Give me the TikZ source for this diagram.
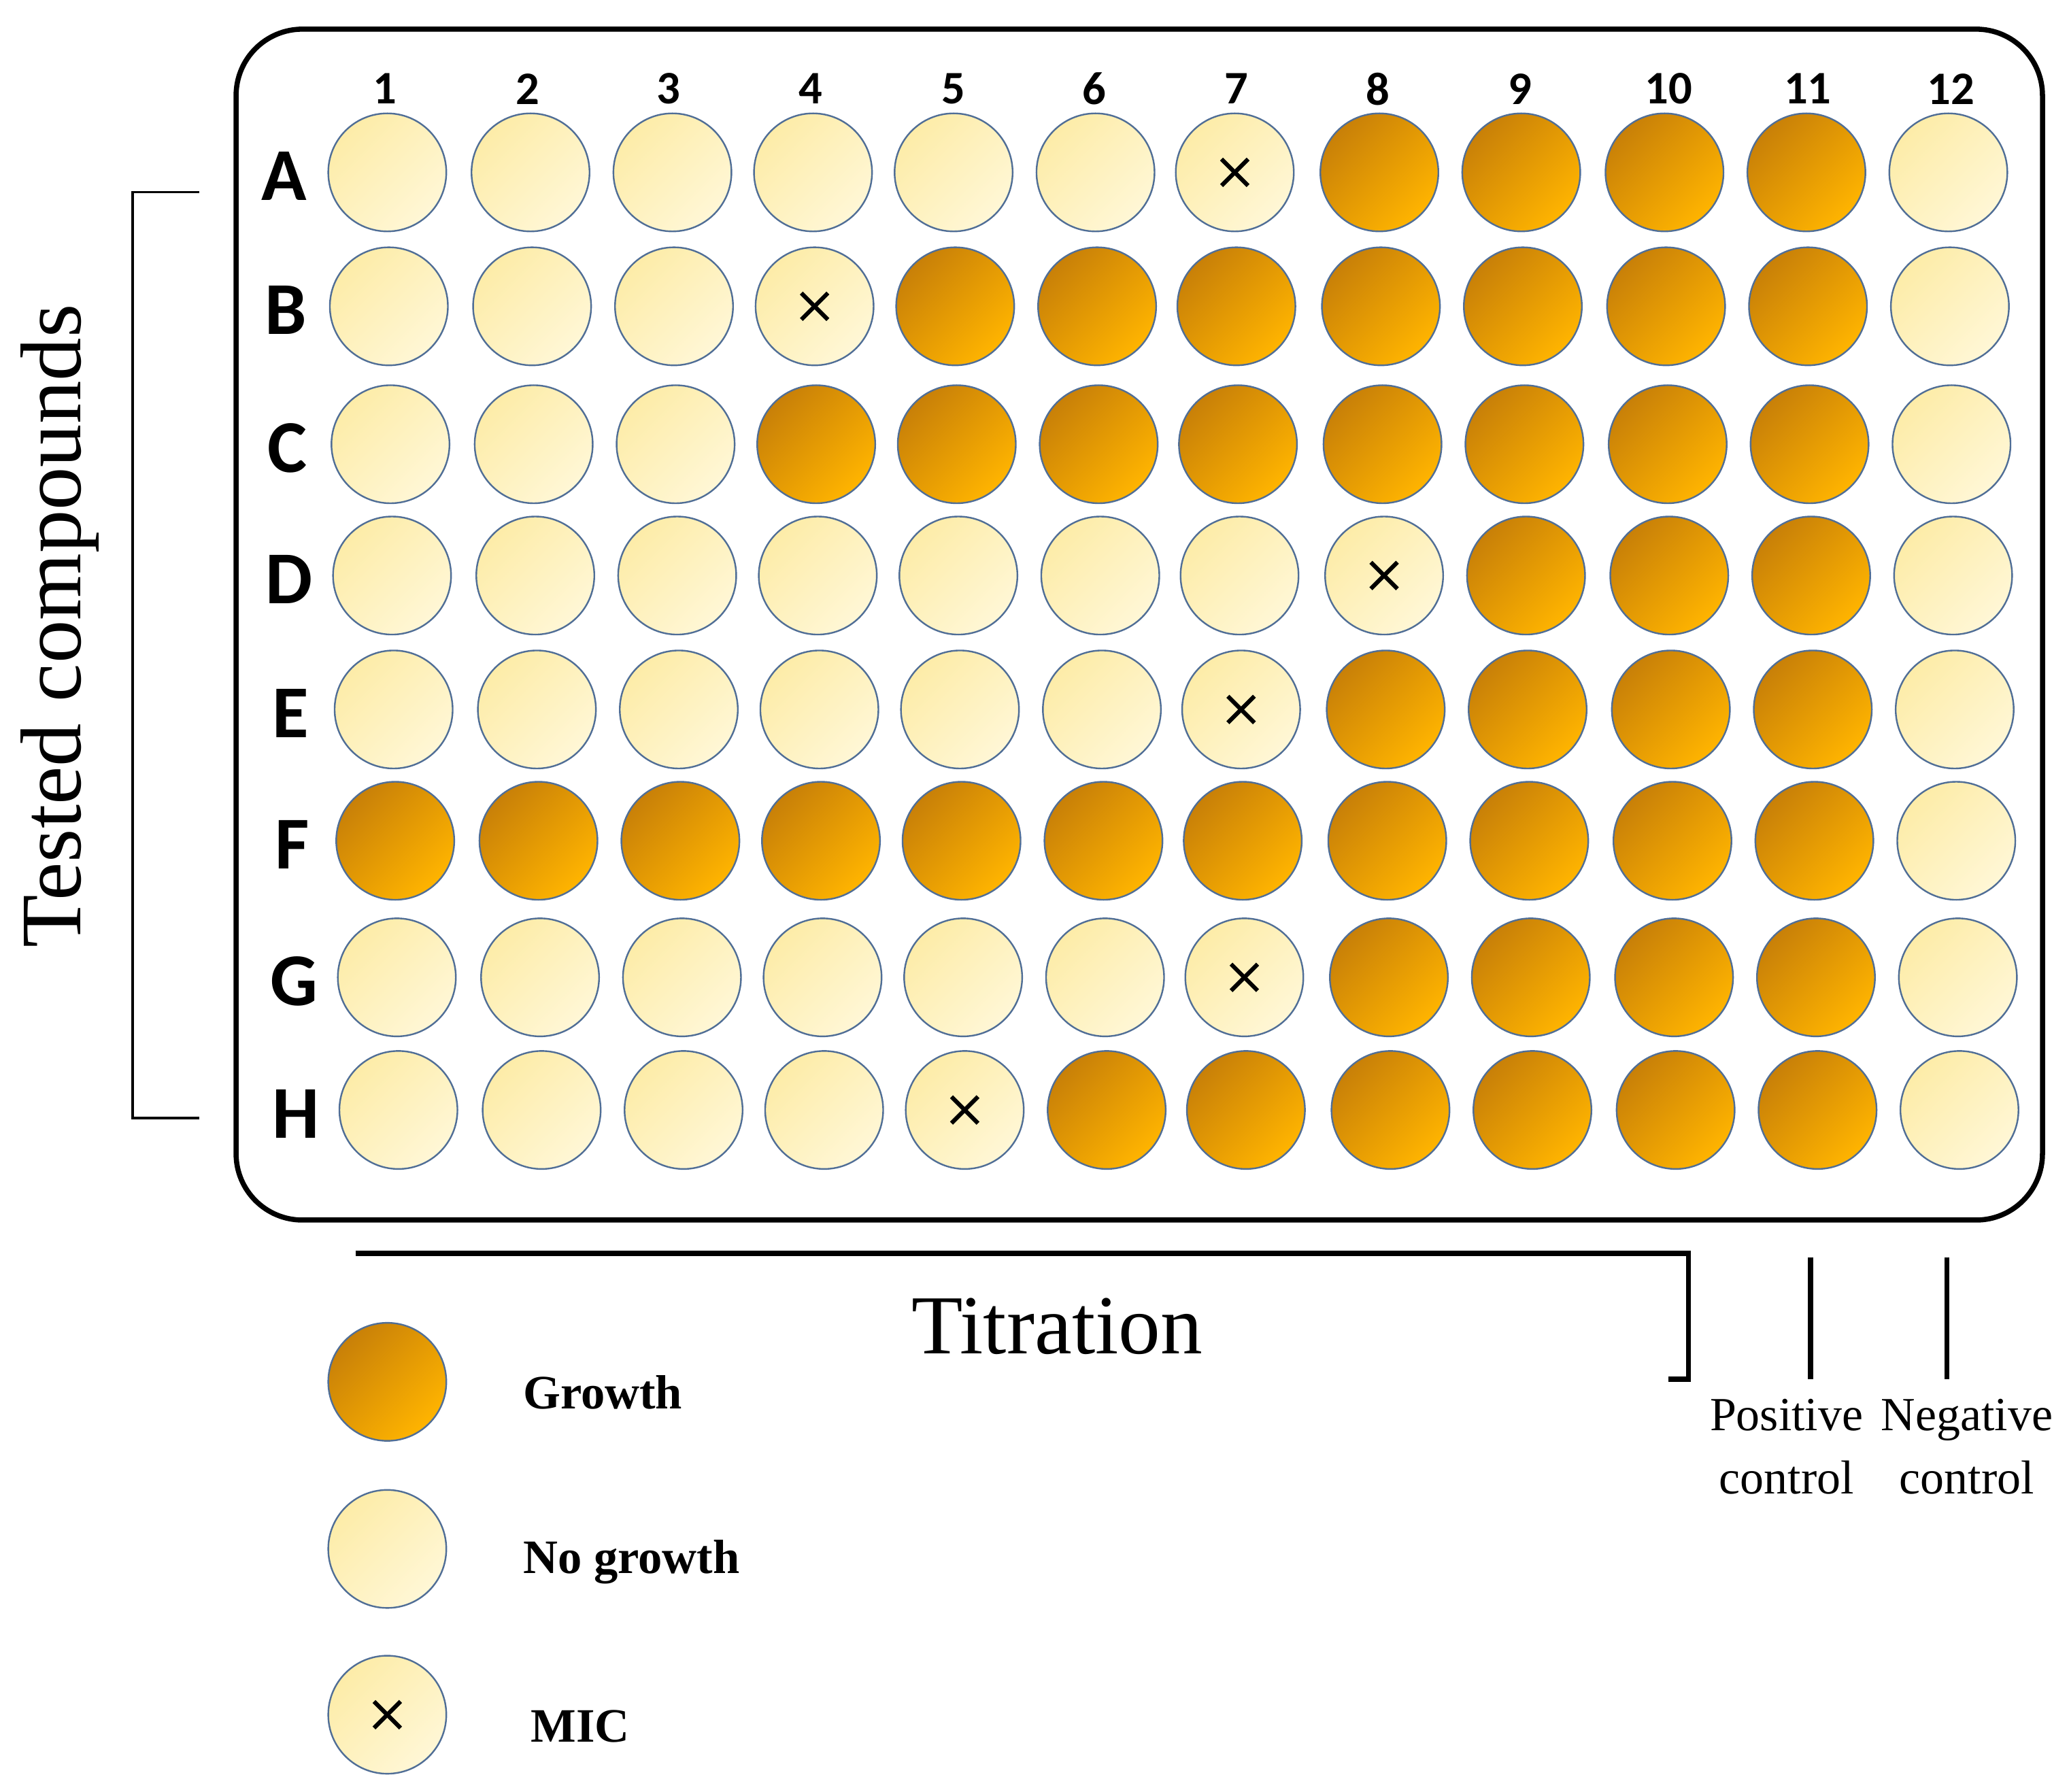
\documentclass[tikz,border=0pt]{standalone}
\usepackage{fontspec}
\setmainfont{Liberation Serif}
\newfontfamily\lblfont{Carlito}
\definecolor{gdark}{RGB}{200,128,8}
\definecolor{glight}{RGB}{255,180,0}
\definecolor{ndark}{RGB}{253,236,168}
\definecolor{nlight}{RGB}{255,247,214}
\definecolor{wellrim}{RGB}{80,110,150}
\begin{document}
\begin{tikzpicture}[x=0.1mm,y=-0.1mm,
  well/.style={circle,draw=wellrim,line width=0.35pt,minimum size=8.9mm,inner sep=0pt},
  growwell/.style={well,left color=gdark,right color=glight,shading angle=45},
  nogrowwell/.style={well,left color=ndark,right color=nlight,shading angle=45},
  heavy/.style={line width=1.1pt},
  micx/.style={line width=0.9pt},
  collbl/.style={font=\lblfont\bfseries\fontsize{10}{12}\selectfont},
  rowlbl/.style={font=\lblfont\bfseries\fontsize{16}{18}\selectfont},
  legtxt/.style={font=\bfseries\fontsize{10.3}{13}\selectfont,anchor=west},
  ctltxt/.style={font=\fontsize{10.2}{13.5}\selectfont,align=center}]
\useasboundingbox (0,0) rectangle (1560,1351);
\node[draw,heavy,rounded corners=5mm,minimum width=136.2mm,minimum height=89.8mm,inner sep=0pt] (plate) at (859,471) {};
\foreach \c/\x in {1/290,2/398,3/504,4/611,5/719,6/825,7/932,8/1039,9/1146,10/1258,11/1363,12/1471}
  \node[collbl] (col\c) at (\x,67) {\c};
\foreach \r/\L/\y/\g/\m [count=\i from 0] in {A/A/130/8/7,B/B/231/5/4,C/C/335/4/0,D/D/434/9/8,E/E/535/8/7,F/F/634/1/0,G/G/737/8/7,H/H/837/6/5}{
  \node[rowlbl] (row\r) at ({214+\i*1.3},{\y+3}) {\L};
  \foreach \c/\x in {1/292,2/400,3/507,4/613,5/719,6/826,7/931,8/1040,9/1147,10/1255,11/1362,12/1469}{
    \pgfmathtruncatemacro{\isg}{(\c>=\g) && (\c<12) ? 1 : 0}
    \ifnum\isg=1
      \node[growwell] (w\r\c) at ({\x+\i*1.2},\y) {};
    \else
      \node[nogrowwell] (w\r\c) at ({\x+\i*1.2},\y) {};
    \fi
    \ifnum\c=\m
      \draw[micx] ([shift={(-10,-10)}]w\r\c.center) -- ([shift={(10,10)}]w\r\c.center);
      \draw[micx] ([shift={(-10,10)}]w\r\c.center) -- ([shift={(10,-10)}]w\r\c.center);
    \fi
  }
}
% left bracket
\coordinate (lb1) at (150,145); \coordinate (lb2) at (100,145);
\coordinate (lb3) at (100,843); \coordinate (lb4) at (150,843);
\draw[line width=0.5pt] (lb1)--(lb2)--(lb3)--(lb4);
\node[rotate=90,font=\fontsize{18.5}{22}\selectfont] (tested) at (45,472) {Tested compounds};
% bottom
\coordinate (t1) at (268,945); \coordinate (t2) at (1273,945);
\coordinate (t3) at (1273,1040); \coordinate (t4) at (1258,1040);
\draw[heavy] (t1)--(t2)--(t3)--(t4);
\node[font=\fontsize{18}{22}\selectfont] (titr) at (797,1000) {Titration};
\coordinate (p1) at (1365,948); \coordinate (p2) at (1365,1040);
\coordinate (n1) at (1468,948); \coordinate (n2) at (1468,1040);
\draw[heavy] (p1)--(p2); \draw[heavy] (n1)--(n2);
\node[ctltxt] (pos) at (1347,1091) {Positive\\control};
\node[ctltxt] (neg) at (1483,1091) {Negative\\control};
% legend
\node[growwell] (lg1) at (292,1042) {};
\node[nogrowwell] (lg2) at (292,1168) {};
\node[nogrowwell] (lg3) at (292,1293) {};
\draw[micx] ([shift={(-10,-10)}]lg3.center) -- ([shift={(10,10)}]lg3.center);
\draw[micx] ([shift={(-10,10)}]lg3.center) -- ([shift={(10,-10)}]lg3.center);
\node[legtxt] (lt1) at (382,1050) {Growth};
\node[legtxt] (lt2) at (382,1178) {No growth};
\node[legtxt] (lt3) at (388,1302) {MIC};
\end{tikzpicture}
\end{document}
